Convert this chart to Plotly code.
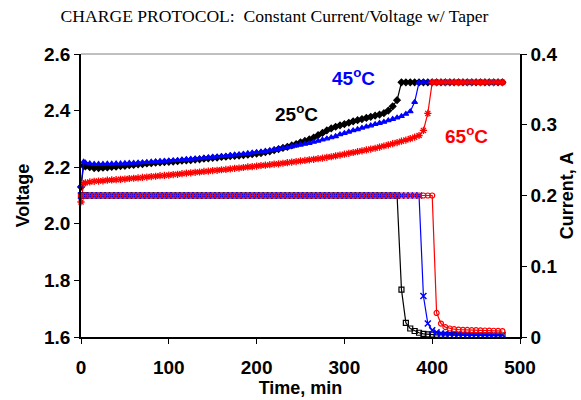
import plotly.graph_objects as go

# ---- data -------------------------------------------------------------
time_min = [0, 3] + list(range(5, 485, 5))

volt_25C = [
    2.130, 2.205, 2.203, 2.200, 2.197, 2.197, 2.198, 2.199, 2.201, 2.202,
    2.204, 2.205, 2.207, 2.208, 2.210, 2.211, 2.213, 2.214, 2.216, 2.217,
    2.218, 2.219, 2.220, 2.221, 2.223, 2.224, 2.225, 2.227, 2.228, 2.230,
    2.231, 2.233, 2.234, 2.236, 2.237, 2.239, 2.240, 2.241, 2.243, 2.244,
    2.246, 2.248, 2.250, 2.253, 2.256, 2.260, 2.264, 2.268, 2.272, 2.277,
    2.282, 2.288, 2.293, 2.298, 2.305, 2.313, 2.321, 2.330, 2.337, 2.343,
    2.348, 2.352, 2.357, 2.362, 2.366, 2.370, 2.374, 2.378, 2.382, 2.386,
    2.391, 2.400, 2.415, 2.437, 2.500, 2.500, 2.500, 2.500, 2.500, 2.500,
    2.500, 2.500, 2.500, 2.500, 2.500, 2.500, 2.500, 2.500, 2.500, 2.500,
    2.500, 2.500, 2.500, 2.500, 2.500, 2.500, 2.500, 2.500,
]
volt_45C = [
    2.135, 2.219, 2.216, 2.213, 2.211, 2.211, 2.211, 2.212, 2.212, 2.213,
    2.213, 2.214, 2.215, 2.215, 2.216, 2.217, 2.218, 2.219, 2.220, 2.221,
    2.222, 2.223, 2.224, 2.225, 2.226, 2.228, 2.229, 2.230, 2.231, 2.233,
    2.234, 2.236, 2.237, 2.239, 2.240, 2.242, 2.244, 2.245, 2.247, 2.249,
    2.251, 2.253, 2.255, 2.257, 2.259, 2.262, 2.264, 2.267, 2.270, 2.273,
    2.276, 2.279, 2.282, 2.285, 2.289, 2.293, 2.297, 2.301, 2.305, 2.309,
    2.316, 2.320, 2.325, 2.330, 2.334, 2.339, 2.343, 2.347, 2.352, 2.356,
    2.360, 2.365, 2.370, 2.375, 2.380, 2.388, 2.397, 2.430, 2.500, 2.500,
    2.500, 2.500, 2.500, 2.500, 2.500, 2.500, 2.500, 2.500, 2.500, 2.500,
    2.500, 2.500, 2.500, 2.500, 2.500, 2.500, 2.500, 2.500,
]
volt_65C = [
    2.077, 2.142, 2.145, 2.148, 2.150, 2.151, 2.152, 2.154, 2.155, 2.156,
    2.157, 2.158, 2.160, 2.161, 2.162, 2.164, 2.165, 2.167, 2.168, 2.170,
    2.171, 2.172, 2.174, 2.175, 2.177, 2.179, 2.180, 2.182, 2.183, 2.185,
    2.186, 2.188, 2.189, 2.191, 2.192, 2.194, 2.196, 2.197, 2.199, 2.201,
    2.202, 2.204, 2.206, 2.207, 2.209, 2.211, 2.212, 2.214, 2.216, 2.218,
    2.220, 2.222, 2.224, 2.226, 2.228, 2.230, 2.232, 2.235, 2.237, 2.240,
    2.243, 2.246, 2.249, 2.252, 2.255, 2.258, 2.261, 2.264, 2.267, 2.271,
    2.275, 2.279, 2.283, 2.287, 2.292, 2.296, 2.301, 2.306, 2.312, 2.330,
    2.390, 2.500, 2.500, 2.500, 2.500, 2.500, 2.500, 2.500, 2.500, 2.500,
    2.500, 2.500, 2.500, 2.500, 2.500, 2.500, 2.500, 2.500,
]

curr_25C = [0.2] * 74 + [
    0.067, 0.020, 0.012, 0.0085, 0.006, 0.0045, 0.0038, 0.0033,
    0.0031, 0.0030, 0.0029, 0.0028, 0.0027, 0.0026, 0.0025, 0.0025,
    0.0024, 0.0023, 0.0023, 0.0022, 0.0022, 0.0021, 0.0021, 0.0020,
]
curr_45C = [0.2] * 79 + [
    0.058, 0.019, 0.0095, 0.0065, 0.005, 0.0045,
    0.0042, 0.0040, 0.0039, 0.0038, 0.0037, 0.0036, 0.0035,
    0.0034, 0.0033, 0.0032, 0.0032, 0.0031, 0.0030,
]
curr_65C = [0.2] * 82 + [
    0.034, 0.019, 0.014, 0.012, 0.011, 0.0105,
    0.0102, 0.0100, 0.0098, 0.0096, 0.0094, 0.0092, 0.0090,
    0.0088, 0.0086, 0.0084,
]

x_ticks = [0, 100, 200, 300, 400, 500]
v_ticks = [1.6, 1.8, 2.0, 2.2, 2.4, 2.6]
i_ticks = [0, 0.1, 0.2, 0.3, 0.4]
i_tick_text = ["0", "0.1", "0.2", "0.3", "0.4"]

# ---- styling ------------------------------------------------------------
BLACK = "#000000"
BLUE = "#0000FF"
RED = "#FF0000"
FONT = "Liberation Sans, Arial, sans-serif"

fig = go.Figure()


def add(y, color, symbol, axis, size=5, lw=1.2):
    marker = dict(symbol=symbol, size=size, color=color,
                  line=dict(color=color, width=lw))
    fig.add_trace(go.Scatter(
        x=time_min, y=y, mode="lines+markers", yaxis=axis,
        line=dict(color=color, width=1.2),
        marker=marker, cliponaxis=False, showlegend=False,
    ))


add(volt_25C, BLACK, "diamond", "y", size=5)
add(volt_45C, BLUE, "triangle-up", "y", size=5)
add(volt_65C, RED, "asterisk-open", "y", size=6, lw=1.3)
add(curr_25C, BLACK, "square-open", "y2", size=5, lw=1.2)
add(curr_45C, BLUE, "x-thin-open", "y2", size=6, lw=1.5)
add(curr_65C, RED, "circle-open", "y2", size=5, lw=1.2)

tick_font = dict(family=FONT, size=19, color=BLACK, weight="bold")
title_font = dict(family=FONT, size=18, color=BLACK, weight="bold")

fig.update_layout(
    width=581, height=400,
    margin=dict(l=81, r=61, t=54, b=63),
    paper_bgcolor="white", plot_bgcolor="white",
    font=dict(family=FONT, color=BLACK),
    xaxis=dict(
        range=[0, 500], tickvals=x_ticks, showgrid=False, zeroline=False,
        showline=True, linecolor=BLACK, linewidth=1.5, automargin=False,
        ticks="outside", ticklen=5, tickwidth=1.2, tickcolor=BLACK,
        tickfont=tick_font, ticklabelstandoff=7,
        title=dict(text="Time, min", font=title_font, standoff=4),
    ),
    yaxis=dict(
        range=[1.6, 2.6], tickvals=v_ticks, tickformat=".1f",
        showgrid=False, zeroline=False, automargin=False,
        showline=True, linecolor=BLACK, linewidth=1.5,
        ticks="outside", ticklen=5, tickwidth=1.2, tickcolor=BLACK,
        tickfont=tick_font,
        title=dict(text="Voltage", font=title_font, standoff=10),
    ),
    yaxis2=dict(
        range=[0, 0.4], tickvals=i_ticks, ticktext=i_tick_text,
        overlaying="y", side="right", showgrid=False, zeroline=False,
        showline=True, linecolor=BLACK, linewidth=1.5, automargin=False,
        ticks="outside", ticklen=5, tickwidth=1.2, tickcolor=BLACK,
        tickfont=tick_font,
        title=dict(text="Current, A", font=title_font, standoff=2),
    ),
    title=dict(
        text="CHARGE PROTOCOL:  Constant Current/Voltage w/ Taper",
        font=dict(family="Liberation Serif, Times New Roman, serif", size=17.6,
                  color=BLACK),
        x=274.5 / 581, xanchor="center", y=1 - 16 / 400, yanchor="middle",
    ),
)

# grey plot-area border on top
fig.add_shape(type="line", xref="paper", yref="paper", x0=0, x1=1, y0=1, y1=1,
              line=dict(color="#808080", width=1))

ann_font = dict(family=FONT, size=19, weight="bold")
fig.add_annotation(x=246, y=2.391, xref="x", yref="y", showarrow=False,
                   text="25<sup>o</sup>C", font=dict(**ann_font, color=BLACK))
fig.add_annotation(x=310, y=2.52, xref="x", yref="y", showarrow=False,
                   text="45<sup>o</sup>C", font=dict(**ann_font, color=BLUE))
fig.add_annotation(x=438.5, y=2.313, xref="x", yref="y", showarrow=False,
                   text="65<sup>o</sup>C", font=dict(**ann_font, color=RED))

fig.write_html("out.html")
